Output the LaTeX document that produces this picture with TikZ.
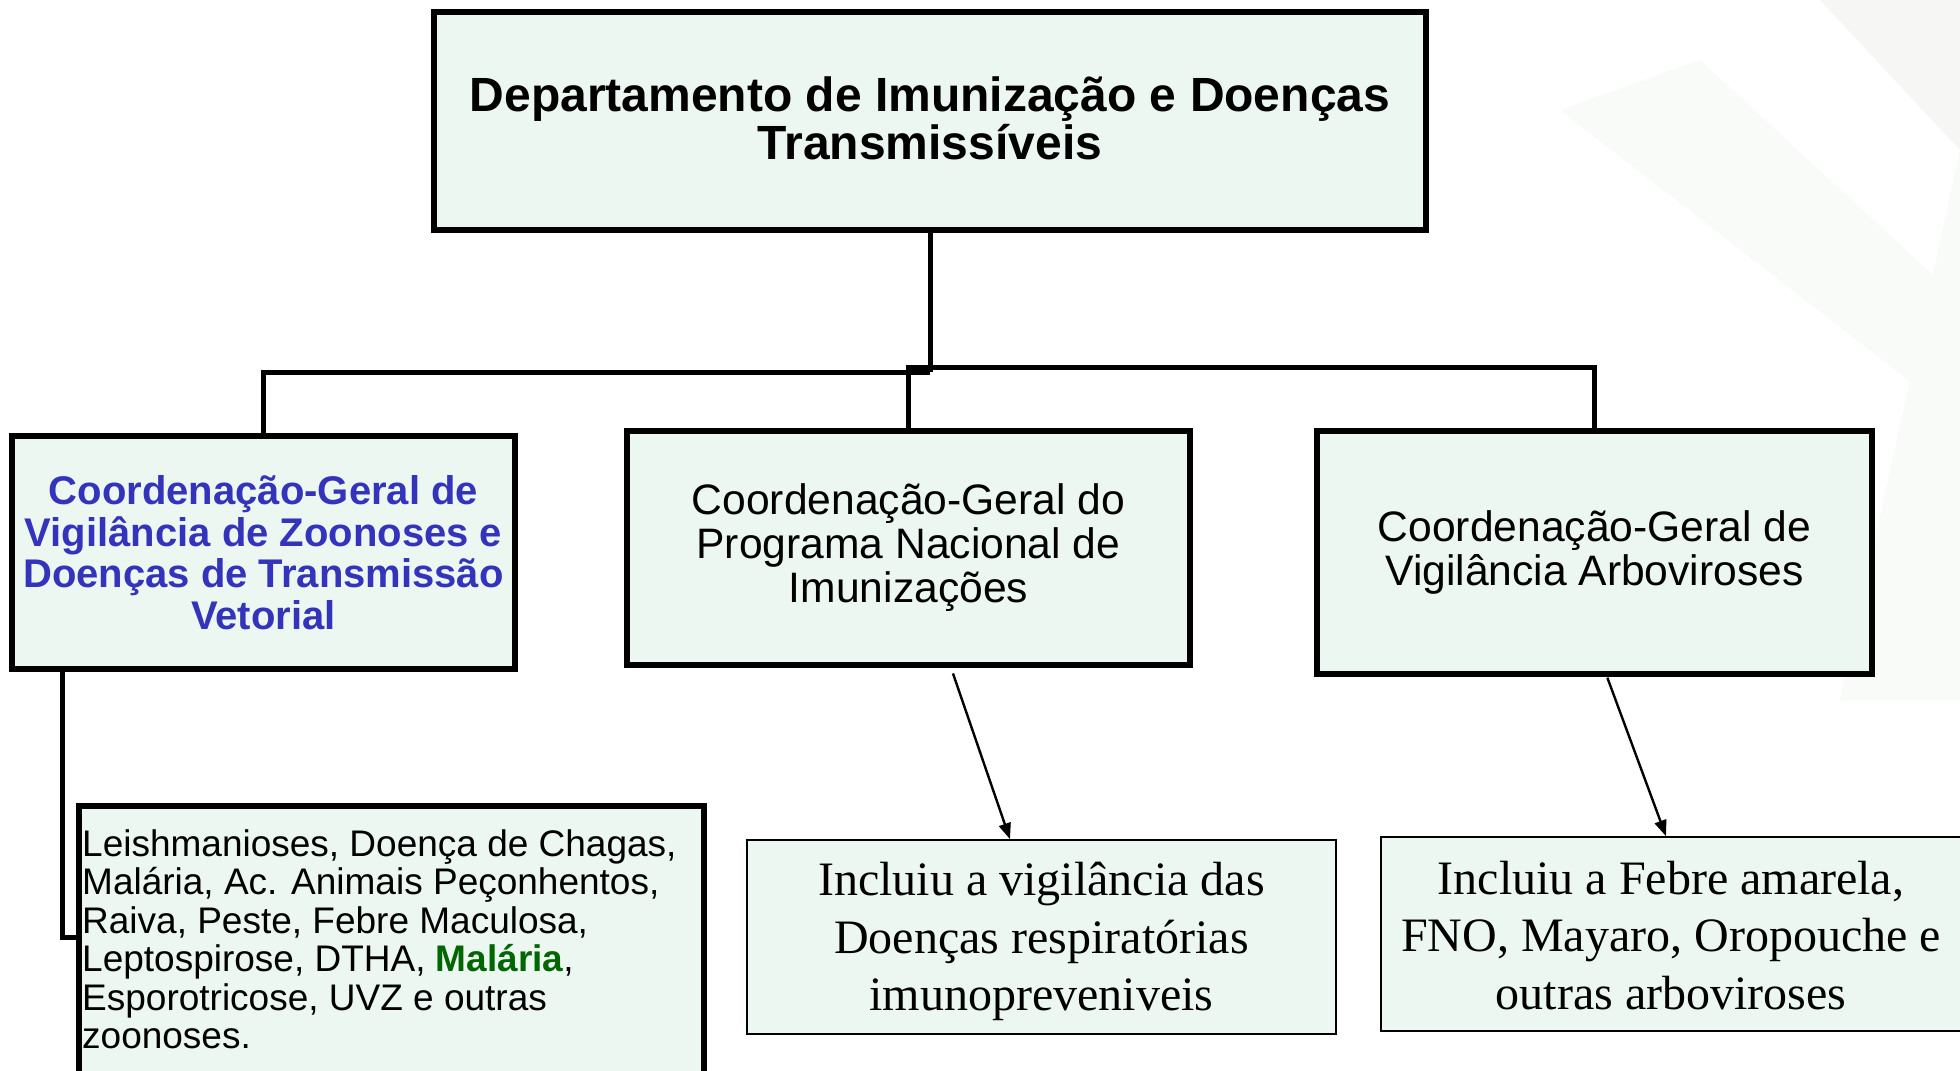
\documentclass[tikz,border=0pt]{standalone}
\usepackage{fontspec}
\setmainfont{Liberation Serif}
\setsansfont{Liberation Sans}
\usetikzlibrary{arrows.meta}
\definecolor{boxfill}{HTML}{EDF7F1}
\definecolor{blueT}{HTML}{3333BB}
\definecolor{greenT}{HTML}{006600}
\definecolor{bgA}{HTML}{F8FBF7}
\definecolor{bgB}{HTML}{F6F6F5}
\begin{document}
\begin{tikzpicture}[x=1pt,y=-1pt,
  bigbox/.style={draw=black, line width=5.5pt, fill=boxfill, inner sep=0pt, align=center},
  thinbox/.style={draw=black, line width=1.6pt, fill=boxfill, inner sep=0pt, align=center},
  tree/.style={line width=5pt},
  arr/.style={line width=2.4pt, -{Triangle[length=16pt,width=12pt]}}]
\useasboundingbox (0,0) rectangle (1960,1071);
\fill[white] (0,0) rectangle (1960,1071);
% faint background bands
\fill[bgB] (1820,0) -- (1960,0) -- (1960,150) -- cycle;
\fill[bgA] (1560,110) -- (1700,60) -- (1960,300) -- (1960,420) -- cycle;
\fill[bgA] (1960,150) -- (1960,700) -- (1840,700) -- cycle;

% boxes
\node[bigbox, minimum width=992pt, minimum height=218pt,
      font=\sffamily\bfseries\fontsize{48}{48}\selectfont] (dep) at (930,121)
      {Departamento de Imunização e Doenças\\Transmissíveis\rule[-5pt]{0pt}{5pt}};
\node[bigbox, minimum width=503pt, minimum height=233pt, text=blueT,
      font=\sffamily\bfseries\fontsize{40}{41.5}\selectfont] (zoon) at (263.5,552.5)
      {Coordenação-Geral de\\Vigilância de Zoonoses e\\Doenças de Transmissão\\Vetorial};
\node[bigbox, minimum width=563pt, minimum height=234pt,
      font=\sffamily\fontsize{42.6}{44}\selectfont] (imun) at (908.5,548)
      {Coordenação-Geral do\\Programa Nacional de\\Imunizações};
\node[bigbox, minimum width=555pt, minimum height=243pt,
      font=\sffamily\fontsize{42.6}{44}\selectfont] (arbo) at (1594.5,552.5)
      {Coordenação-Geral de\\Vigilância Arboviroses};

\node[bigbox, minimum width=625pt, minimum height=280pt] (zoobox) at (391.5,946) {};
\node[anchor=north west, inner sep=0pt, align=left,
      font=\sffamily\fontsize{37}{38.5}\selectfont] (zootxt) at (82,829)
      {Leishmanioses, Doença de Chagas,\\Malária, Ac. Animais Peçonhentos,\\Raiva, Peste, Febre Maculosa,\\Leptospirose, DTHA, \textcolor{greenT}{\bfseries Malária},\\Esporotricose, UVZ e outras\\zoonoses.};

\node[thinbox, minimum width=589pt, minimum height=194pt,
      font=\rmfamily\fontsize{48}{57.5}\selectfont] (resp) at (1041.5,937)
      {\rule{0pt}{43pt}Incluiu a vigilância das\\Doenças respiratórias\\imunopreveniveis};
\node[thinbox, minimum width=580pt, minimum height=194pt,
      font=\rmfamily\fontsize{48}{57.5}\selectfont] (febre) at (1671,934)
      {\rule{0pt}{36pt}Incluiu a Febre amarela,\\FNO, Mayaro, Oropouche e\\outras arboviroses};

% tree connectors
\coordinate (jl) at (930,372);
\coordinate (jr) at (909,367);
\draw[tree] (dep.south) -- (dep.south |- jl);
\draw[tree] (zoon.north) |- (jl);
\draw[tree] (imun.north) |- (arbo.north |- jr) -- (arbo.north);
\draw[tree] (zoon.south -| 62,0) |- (zoobox.west |- 0,937);

% arrows
\draw[arr, shorten <=6pt] (imun.south -| 951,0) -- (resp.north -| 1010,0);
\draw[arr, shorten <=1pt] (arbo.south -| 1607,0) -- (febre.north -| 1666,0);
\end{tikzpicture}
\end{document}
